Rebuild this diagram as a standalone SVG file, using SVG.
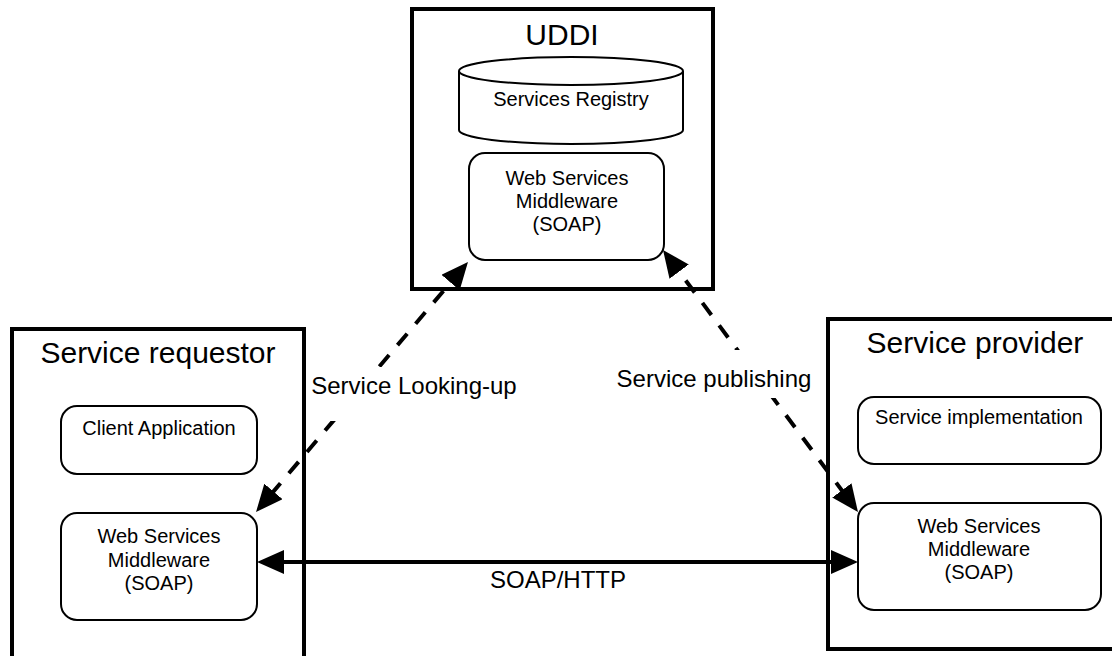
<svg xmlns="http://www.w3.org/2000/svg" width="1112" height="656" viewBox="0 0 1112 656">
  <style>
    .outer { fill: #ffffff; stroke: #000000; stroke-width: 4; }
    .inner { fill: #ffffff; stroke: #000000; stroke-width: 2; }
    .title { font-family: "Liberation Sans", Arial, sans-serif; font-size: 30px; fill: #000000; text-anchor: middle; }
    .lbl { font-family: "Liberation Sans", Arial, sans-serif; font-size: 20px; fill: #000000; text-anchor: middle; }
    .elbl { font-family: "Liberation Sans", Arial, sans-serif; font-size: 24px; fill: #000000; text-anchor: middle; }
    .conn { fill: none; stroke: #000000; stroke-width: 4; }
    .dash { stroke-dasharray: 15 13; }
  </style>
  <defs>
    <marker id="arrow" markerUnits="userSpaceOnUse" markerWidth="27" markerHeight="24" refX="17" refY="12" orient="auto-start-reverse" viewBox="0 0 27 24">
      <path d="M0,0 L27,12 L0,24 Z" fill="#000000"/>
    </marker>
  </defs>
  <rect x="0" y="0" width="1112" height="656" fill="#ffffff"/>

  <g id="uddi">
    <rect class="outer" x="412" y="9" width="301" height="280"/>
    <text class="title" x="562" y="45">UDDI</text>
  </g>
  <g id="services-registry">
    <path class="inner" d="M459,71 V130 A112,14 0 0 0 683,130 V71"/>
    <ellipse class="inner" cx="571" cy="71" rx="112" ry="14"/>
    <text class="lbl" x="571" y="106">Services Registry</text>
  </g>
  <g id="uddi-middleware">
    <rect class="inner" x="469" y="153" width="195" height="107" rx="16" ry="16"/>
    <text class="lbl" x="567" y="185">Web Services</text>
    <text class="lbl" x="567" y="208">Middleware</text>
    <text class="lbl" x="567" y="231">(SOAP)</text>
  </g>

  <g id="service-requestor">
    <rect class="outer" x="12" y="329" width="292" height="345"/>
    <text class="title" x="158" y="363">Service requestor</text>
  </g>
  <g id="client-application">
    <rect class="inner" x="61" y="406" width="196" height="68" rx="16" ry="16"/>
    <text class="lbl" x="159" y="435">Client Application</text>
  </g>
  <g id="requestor-middleware">
    <rect class="inner" x="61" y="513" width="196" height="107" rx="16" ry="16"/>
    <text class="lbl" x="159" y="543">Web Services</text>
    <text class="lbl" x="159" y="567">Middleware</text>
    <text class="lbl" x="159" y="590">(SOAP)</text>
  </g>

  <g id="service-provider">
    <rect class="outer" x="828" y="319" width="300" height="330"/>
    <text class="title" x="975" y="353">Service provider</text>
  </g>
  <g id="service-implementation">
    <rect class="inner" x="858" y="397" width="243" height="67" rx="16" ry="16"/>
    <text class="lbl" x="979" y="424">Service implementation</text>
  </g>
  <g id="provider-middleware">
    <rect class="inner" x="858" y="503" width="243" height="107" rx="16" ry="16"/>
    <text class="lbl" x="979" y="533">Web Services</text>
    <text class="lbl" x="979" y="556">Middleware</text>
    <text class="lbl" x="979" y="579">(SOAP)</text>
  </g>

  <g id="connectors">
    <line class="conn dash" x1="461.5" y1="269.6" x2="262.5" y2="504.4" marker-start="url(#arrow)" marker-end="url(#arrow)"/>
    <line class="conn dash" x1="669" y1="258" x2="852" y2="504" marker-start="url(#arrow)" marker-end="url(#arrow)"/>
    <line class="conn" x1="267" y1="562" x2="848" y2="562" marker-start="url(#arrow)" marker-end="url(#arrow)"/>
    <rect x="308" y="367" width="212" height="54" fill="#ffffff"/>
    <text class="elbl" x="414" y="394">Service Looking-up</text>
    <rect x="614" y="350" width="202" height="48" fill="#ffffff"/>
    <text class="elbl" x="714" y="387">Service publishing</text>
    <text class="elbl" x="558" y="588">SOAP/HTTP</text>
  </g>
</svg>
